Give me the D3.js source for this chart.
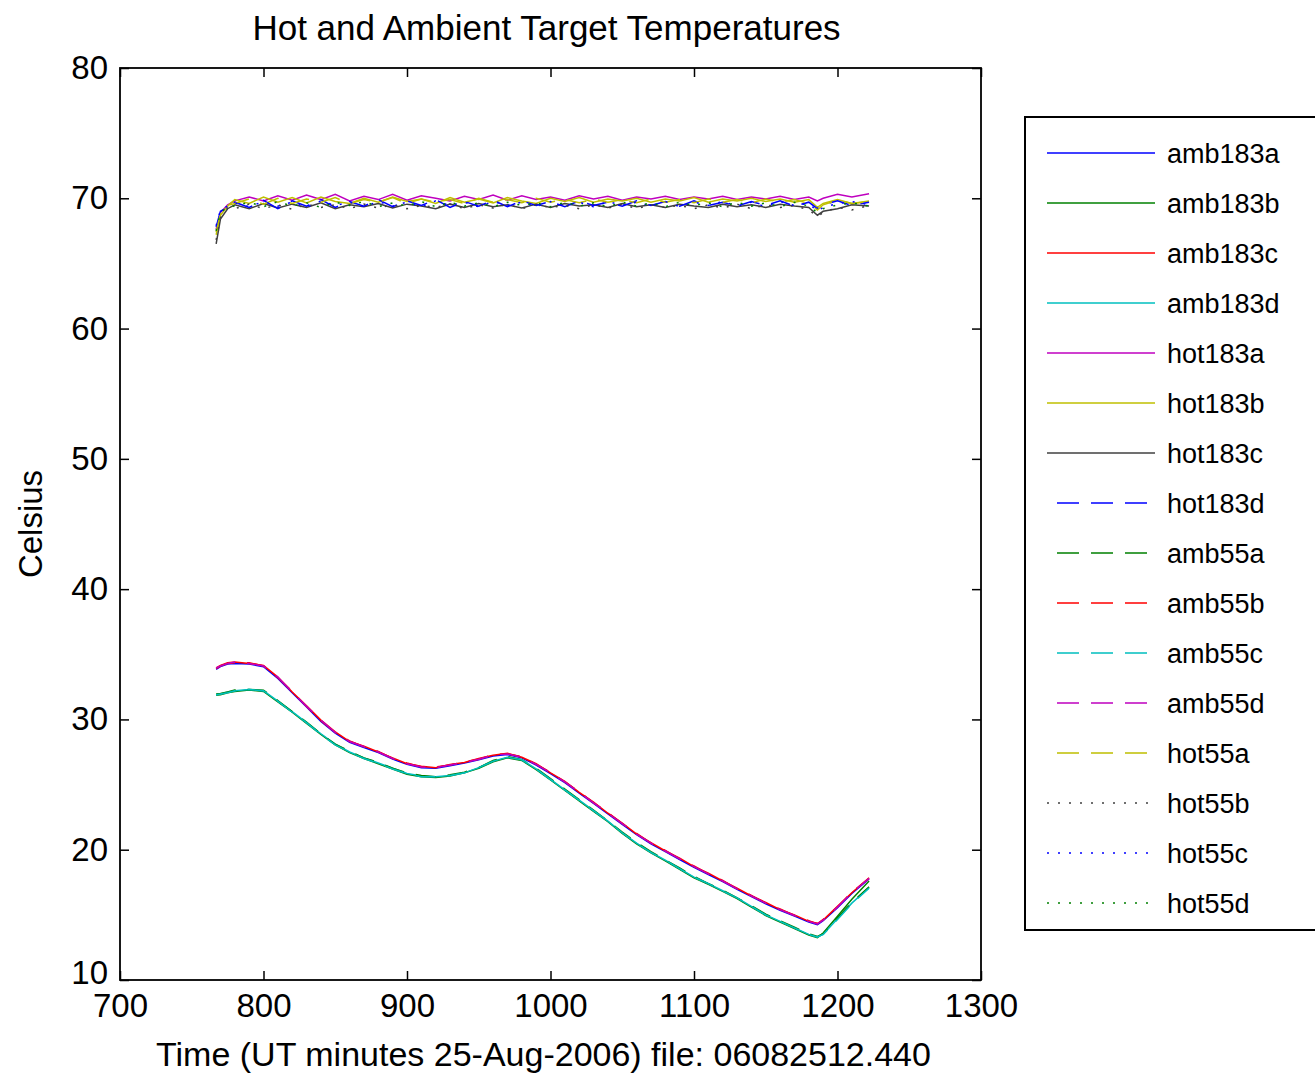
<!DOCTYPE html>
<html>
<head>
<meta charset="utf-8">
<script src="https://cdn.jsdelivr.net/npm/d3@7"></script>
<style>
  html, body { margin: 0; padding: 0; background: #fff; }
  svg text { font-family: "Liberation Sans", Arial, sans-serif; fill: #000; }
</style>
</head>
<body>
<svg id="chart" width="1315" height="1075"></svg>
<script>
// time axis (UT minutes) shared by every series
const time = [767, 770, 775, 780, 790, 800, 810, 820, 830, 840, 850, 860, 870, 880, 890, 900, 910, 920, 930, 940,
  950, 960, 970, 980, 990, 1000, 1010, 1020, 1030, 1040, 1050, 1060, 1070, 1080, 1090, 1100, 1110, 1120, 1130, 1140,
  1150, 1160, 1170, 1180, 1186, 1190, 1200, 1210, 1222];

const amb183a = [33.85, 34.05, 34.25, 34.3, 34.25, 34.05, 33.15, 32.05, 30.95, 29.85, 28.95, 28.25, 27.85, 27.45, 26.95, 26.55, 26.3, 26.25, 26.45, 26.65,
  26.9, 27.2, 27.3, 27.05, 26.5, 25.85, 25.15, 24.35, 23.55, 22.75, 21.95, 21.15, 20.45, 19.85, 19.25, 18.65, 18.1, 17.55, 16.95, 16.4,
  15.85, 15.35, 14.9, 14.45, 14.25, 14.55, 15.55, 16.65, 17.75];
const amb183b = [31.85, 31.9, 32.05, 32.15, 32.25, 32.15, 31.35, 30.55, 29.7, 28.85, 28.05, 27.45, 27.0, 26.6, 26.2, 25.8, 25.6, 25.55, 25.65, 25.9,
  26.25, 26.75, 27.05, 26.85, 26.15, 25.35, 24.55, 23.75, 22.95, 22.15, 21.25, 20.45, 19.75, 19.15, 18.5, 17.85, 17.35, 16.8, 16.25, 15.6,
  14.95, 14.45, 13.95, 13.45, 13.25, 13.6, 14.9, 16.2, 17.6];
const amb183c = [33.95, 34.15, 34.35, 34.4, 34.3, 34.15, 33.25, 32.1, 31.05, 29.95, 29.05, 28.3, 27.95, 27.5, 27.05, 26.6, 26.4, 26.3, 26.55, 26.7,
  27.0, 27.25, 27.4, 27.1, 26.6, 25.9, 25.25, 24.4, 23.65, 22.8, 22.05, 21.2, 20.55, 19.9, 19.35, 18.7, 18.2, 17.6, 17.05, 16.45,
  15.95, 15.4, 15.0, 14.5, 14.35, 14.6, 15.65, 16.7, 17.85];
const amb183d = [31.9, 31.95, 32.1, 32.2, 32.3, 32.2, 31.4, 30.6, 29.75, 28.9, 28.1, 27.5, 27.05, 26.65, 26.25, 25.85, 25.65, 25.6, 25.7, 25.9,
  26.3, 26.8, 27.1, 26.9, 26.2, 25.4, 24.6, 23.8, 23.0, 22.2, 21.3, 20.5, 19.8, 19.2, 18.55, 17.9, 17.4, 16.85, 16.3, 15.65,
  15.0, 14.5, 14.0, 13.5, 13.3, 13.5, 14.7, 15.9, 17.1];
const hot183a = [67.6, 68.9, 69.5, 69.8, 70.1, 69.8, 70.2, 69.85, 70.25, 69.9, 70.3, 69.8, 70.15, 69.9, 70.3, 69.85, 70.2, 70.0, 69.8, 70.15,
  69.9, 70.25, 69.85, 70.2, 69.9, 70.1, 69.85, 70.2, 69.95, 70.15, 69.85, 70.1, 69.95, 70.15, 69.9, 70.1, 69.95, 70.15, 69.9, 70.1,
  69.95, 70.15, 69.9, 70.1, 69.8, 70.0, 70.3, 70.1, 70.35];
const hot183b = [67.2, 68.7, 69.4, 69.9, 69.6, 70.1, 69.7, 70.05, 69.65, 70.1, 69.75, 69.6, 70.0, 69.7, 70.1, 69.75, 69.95, 69.6, 70.05, 69.7,
  69.95, 69.65, 70.05, 69.8, 69.6, 70.0, 69.75, 70.05, 69.7, 69.95, 69.8, 70.0, 69.7, 69.95, 69.8, 70.05, 69.7, 69.95, 69.8, 70.0,
  69.75, 69.95, 69.7, 69.9, 69.3, 69.6, 69.9, 69.6, 69.8];
const hot183c = [66.5, 68.4, 69.2, 69.5, 69.2, 69.6, 69.25, 69.55, 69.3, 69.65, 69.2, 69.5, 69.35, 69.6, 69.25, 69.55, 69.4, 69.2, 69.55, 69.3,
  69.6, 69.35, 69.5, 69.25, 69.55, 69.3, 69.6, 69.4, 69.5, 69.3, 69.6, 69.35, 69.5, 69.3, 69.55, 69.4, 69.3, 69.55, 69.35, 69.5,
  69.3, 69.55, 69.4, 69.3, 68.7, 69.0, 69.2, 69.5, 69.4];
const hot183d = [67.8, 69.0, 69.3, 69.7, 69.3, 69.85, 69.2, 69.8, 69.4, 69.9, 69.3, 69.75, 69.4, 69.9, 69.35, 69.8, 69.45, 69.9, 69.3, 69.75,
  69.4, 69.85, 69.35, 69.8, 69.45, 69.75, 69.35, 69.8, 69.45, 69.7, 69.4, 69.8, 69.45, 69.75, 69.4, 69.8, 69.45, 69.7, 69.4, 69.75,
  69.45, 69.8, 69.4, 69.7, 69.2, 69.5, 69.8, 69.45, 69.7];
const amb55a = [31.95, 32.0, 32.1, 32.25, 32.3, 32.25, 31.45, 30.6, 29.8, 28.9, 28.1, 27.55, 27.05, 26.7, 26.25, 25.9, 25.7, 25.6, 25.75, 25.95,
  26.3, 26.85, 27.15, 26.9, 26.25, 25.45, 24.65, 23.85, 23.05, 22.2, 21.35, 20.55, 19.85, 19.2, 18.6, 17.95, 17.4, 16.9, 16.3, 15.7,
  15.05, 14.55, 14.05, 13.55, 13.35, 13.55, 14.75, 15.95, 17.15];
const amb55b = [33.9, 34.1, 34.3, 34.35, 34.35, 34.1, 33.2, 32.15, 31.0, 29.9, 29.0, 28.35, 27.9, 27.55, 27.0, 26.65, 26.35, 26.35, 26.5, 26.75,
  26.95, 27.3, 27.35, 27.15, 26.55, 25.95, 25.2, 24.45, 23.6, 22.85, 22.0, 21.25, 20.5, 19.95, 19.3, 18.75, 18.15, 17.65, 17.0, 16.5,
  15.9, 15.45, 14.95, 14.55, 14.3, 14.65, 15.6, 16.75, 17.8];
const amb55c = [31.9, 31.95, 32.05, 32.2, 32.3, 32.2, 31.4, 30.55, 29.75, 28.85, 28.05, 27.5, 27.0, 26.65, 26.2, 25.85, 25.6, 25.6, 25.7, 25.9,
  26.3, 26.8, 27.1, 26.9, 26.2, 25.4, 24.6, 23.8, 23.0, 22.2, 21.3, 20.5, 19.8, 19.2, 18.55, 17.9, 17.4, 16.85, 16.3, 15.65,
  15.0, 14.5, 14.0, 13.5, 13.3, 13.5, 14.65, 15.85, 17.05];
const amb55d = [33.95, 34.1, 34.3, 34.4, 34.3, 34.1, 33.25, 32.1, 31.0, 29.95, 29.0, 28.3, 27.9, 27.5, 27.0, 26.6, 26.35, 26.3, 26.5, 26.7,
  26.95, 27.25, 27.35, 27.1, 26.55, 25.9, 25.2, 24.4, 23.6, 22.8, 22.0, 21.2, 20.5, 19.9, 19.3, 18.7, 18.15, 17.6, 17.0, 16.45,
  15.9, 15.4, 14.95, 14.5, 14.3, 14.6, 15.6, 16.7, 17.8];
const hot55a = [67.4, 68.8, 69.45, 69.6, 69.95, 69.55, 70.0, 69.6, 69.95, 69.7, 70.05, 69.6, 69.9, 69.7, 70.05, 69.6, 69.95, 69.7, 69.9, 69.6,
  70.0, 69.7, 69.9, 69.65, 70.0, 69.7, 69.9, 69.65, 69.95, 69.7, 69.9, 69.65, 69.95, 69.7, 69.9, 69.65, 69.95, 69.7, 69.9, 69.65,
  69.95, 69.7, 69.9, 69.6, 69.1, 69.5, 69.85, 69.6, 69.75];
const hot55b = [66.8, 68.5, 69.25, 69.2, 69.55, 69.2, 69.5, 69.15, 69.55, 69.3, 69.5, 69.2, 69.55, 69.25, 69.5, 69.2, 69.45, 69.3, 69.55, 69.2,
  69.5, 69.25, 69.55, 69.2, 69.5, 69.3, 69.45, 69.2, 69.5, 69.25, 69.55, 69.2, 69.5, 69.3, 69.45, 69.2, 69.5, 69.25, 69.55, 69.2,
  69.5, 69.3, 69.45, 69.1, 68.6, 68.9, 69.3, 69.1, 69.45];
const hot55c = [67.9, 69.1, 69.4, 69.65, 69.35, 69.75, 69.4, 69.7, 69.3, 69.8, 69.45, 69.7, 69.35, 69.75, 69.4, 69.7, 69.35, 69.8, 69.45, 69.7,
  69.35, 69.75, 69.45, 69.7, 69.35, 69.75, 69.4, 69.7, 69.35, 69.75, 69.45, 69.7, 69.4, 69.75, 69.35, 69.7, 69.45, 69.75, 69.4, 69.7,
  69.35, 69.75, 69.45, 69.6, 69.0, 69.3, 69.6, 69.75, 69.5];
const hot55d = [67.5, 68.9, 69.35, 69.4, 69.7, 69.35, 69.75, 69.4, 69.65, 69.3, 69.7, 69.45, 69.75, 69.35, 69.65, 69.4, 69.75, 69.35, 69.7, 69.4,
  69.65, 69.35, 69.7, 69.45, 69.65, 69.35, 69.7, 69.4, 69.65, 69.35, 69.7, 69.4, 69.65, 69.35, 69.7, 69.45, 69.65, 69.35, 69.7, 69.4,
  69.65, 69.35, 69.7, 69.4, 68.9, 69.2, 69.5, 69.65, 69.4];

const seriesNames = ['amb183a', 'amb183b', 'amb183c', 'amb183d', 'hot183a', 'hot183b', 'hot183c', 'hot183d',
  'amb55a', 'amb55b', 'amb55c', 'amb55d', 'hot55a', 'hot55b', 'hot55c', 'hot55d'];
const seriesValues = [amb183a, amb183b, amb183c, amb183d, hot183a, hot183b, hot183c, hot183d,
  amb55a, amb55b, amb55c, amb55d, hot55a, hot55b, hot55c, hot55d];
const seriesColors = ['#0000ff', '#008000', '#ff0000', '#00bfbf', '#bf00bf', '#bfbf00', '#404040', '#0000ff',
  '#008000', '#ff0000', '#00bfbf', '#bf00bf', '#bfbf00', '#404040', '#0000ff', '#008000'];
const seriesStyle = ['solid', 'solid', 'solid', 'solid', 'solid', 'solid', 'solid', 'dash',
  'dash', 'dash', 'dash', 'dash', 'dash', 'dot', 'dot', 'dot'];

const xTicks = [700, 800, 900, 1000, 1100, 1200, 1300];
const yTicks = [10, 20, 30, 40, 50, 60, 70, 80];

seriesValues.forEach((v, i) => {
  if (v.length !== time.length) throw new Error(seriesNames[i] + ' has ' + v.length + ' values, expected ' + time.length);
});

const margin = { top: 68, right: 334, bottom: 95, left: 120 };
const width = 1315, height = 1075;
const dashFor = { solid: null, dash: '20,12', dot: '2,9' };

const svg = d3.select('#chart');

const xScale = d3.scaleLinear().domain([700, 1300]).range([margin.left, width - margin.right]);
const yScale = d3.scaleLinear().domain([10, 80]).range([height - margin.bottom, margin.top]);

// lines
const line = d3.line()
  .x(d => xScale(d[0]))
  .y(d => yScale(d[1]));

const plot = svg.append('g').attr('class', 'lines');
seriesValues.forEach((vals, i) => {
  plot.append('path')
    .datum(d3.zip(time, vals))
    .attr('fill', 'none')
    .attr('stroke', seriesColors[i])
    .attr('stroke-width', 1.5)
    .attr('stroke-dasharray', dashFor[seriesStyle[i]])
    .attr('d', line);
});

// axes, ticks pointing inward on all four sides
const tickLen = 9;
const x0 = xScale.range()[0], x1 = xScale.range()[1];
const y0 = yScale.range()[0], y1 = yScale.range()[1];
const fmt = d3.format('d');

const gx = svg.append('g').attr('transform', `translate(0,${y0})`)
  .call(d3.axisBottom(xScale).tickValues(xTicks).tickSize(-tickLen).tickPadding(14).tickFormat(fmt));
const gxt = svg.append('g').attr('transform', `translate(0,${y1})`)
  .call(d3.axisTop(xScale).tickValues(xTicks).tickSize(-tickLen).tickFormat(''));
const gy = svg.append('g').attr('transform', `translate(${x0},0)`)
  .call(d3.axisLeft(yScale).tickValues(yTicks).tickSize(-tickLen).tickPadding(12).tickFormat(fmt));
const gyr = svg.append('g').attr('transform', `translate(${x1},0)`)
  .call(d3.axisRight(yScale).tickValues(yTicks).tickSize(-tickLen).tickFormat(''));

[gx, gxt, gy, gyr].forEach(g => {
  g.select('.domain').remove();
  g.selectAll('line').attr('stroke', '#000').attr('stroke-width', 1.5);
  g.selectAll('text')
    .attr('font-family', '"Liberation Sans", Arial, sans-serif')
    .attr('font-size', 33)
    .attr('fill', '#000');
});
// the lowest y label sits a little higher so it clears the 700 label
gy.selectAll('.tick').filter(d => d === 10).select('text').attr('dy', '0.1em');

svg.append('rect')
  .attr('x', x0).attr('y', y1)
  .attr('width', x1 - x0).attr('height', y0 - y1)
  .attr('fill', 'none').attr('stroke', '#000').attr('stroke-width', 1.8);

// title and labels
svg.append('text')
  .attr('x', (x0 + x1) / 2 - 4).attr('y', 40)
  .attr('text-anchor', 'middle').attr('font-size', 35)
  .text('Hot and Ambient Target Temperatures');

svg.append('text')
  .attr('x', (x0 + x1) / 2 - 7).attr('y', 1066)
  .attr('text-anchor', 'middle').attr('font-size', 34)
  .text('Time (UT minutes 25-Aug-2006) file: 06082512.440');

svg.append('text')
  .attr('transform', `translate(42,${(y0 + y1) / 2}) rotate(-90)`)
  .attr('text-anchor', 'middle').attr('font-size', 33)
  .text('Celsius');

// legend
const legend = svg.append('g').attr('transform', 'translate(1025,117)');
legend.append('rect')
  .attr('x', 0).attr('y', 0)
  .attr('width', 310).attr('height', 813)
  .attr('fill', '#fff').attr('stroke', '#000').attr('stroke-width', 2);

const rowY = d3.scaleLinear().domain([0, seriesNames.length - 1]).range([36, 786]);
seriesNames.forEach((name, i) => {
  const row = legend.append('g').attr('transform', `translate(0,${rowY(i)})`);
  const style = seriesStyle[i];
  row.append('line')
    .attr('x1', style === 'dash' ? 32 : 22).attr('x2', 130)
    .attr('y1', 0).attr('y2', 0)
    .attr('stroke', seriesColors[i])
    .attr('stroke-width', 1.5)
    .attr('stroke-dasharray', style === 'dash' ? '22,12' : dashFor[style]);
  row.append('text')
    .attr('x', 142).attr('y', 10)
    .attr('font-size', 27)
    .text(name);
});
</script>
</body>
</html>
